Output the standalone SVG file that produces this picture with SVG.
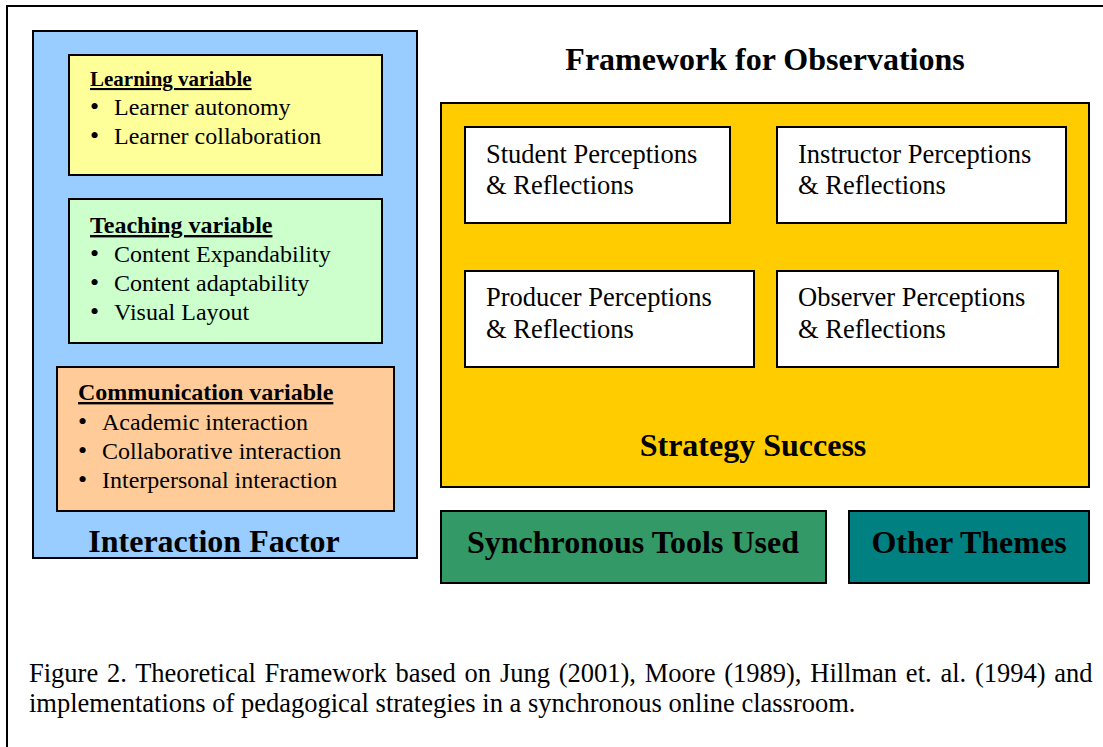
<svg xmlns="http://www.w3.org/2000/svg" width="1103" height="747" viewBox="0 0 1103 747">
<style>
text{font-family:"Liberation Serif","Times New Roman",serif;fill:#000}
.box{stroke:#000;stroke-width:2}
.hd{font-weight:bold;font-size:24px;text-decoration:underline}
.hs{font-size:21px}
.it{font-size:24px}
.bl{font-size:26px}
.lb{font-size:26.5px}
.big{font-weight:bold;font-size:32px}
.cap{font-size:26.5px}
</style>
<rect x="7" y="6" width="1110" height="760" fill="#fff" stroke="#000" stroke-width="2"/>
<g id="interaction-factor">
<rect class="box" x="33" y="31" width="384" height="527" fill="#99CCFF"/>
<text class="big" x="214" y="552" text-anchor="middle">Interaction Factor</text>
</g>
<g id="learning-variable">
<rect class="box" x="69" y="55" width="313" height="120" fill="#FFFF99"/>
<text class="hd hs" x="90" y="86">Learning variable</text>
<text class="bl" x="90" y="115">•</text><text class="it" x="114" y="115">Learner autonomy</text>
<text class="bl" x="90" y="144">•</text><text class="it" x="114" y="144">Learner collaboration</text>
</g>
<g id="teaching-variable">
<rect class="box" x="69" y="199" width="313" height="144" fill="#CCFFCC"/>
<text class="hd" x="90" y="233">Teaching variable</text>
<text class="bl" x="90" y="262">•</text><text class="it" x="114" y="262">Content Expandability</text>
<text class="bl" x="90" y="291">•</text><text class="it" x="114" y="291">Content adaptability</text>
<text class="bl" x="90" y="320">•</text><text class="it" x="114" y="320">Visual Layout</text>
</g>
<g id="communication-variable">
<rect class="box" x="57" y="367" width="337" height="144" fill="#FFCC99"/>
<text class="hd" x="78" y="400">Communication variable</text>
<text class="bl" x="78" y="430">•</text><text class="it" x="102" y="430">Academic interaction</text>
<text class="bl" x="78" y="459">•</text><text class="it" x="102" y="459">Collaborative interaction</text>
<text class="bl" x="78" y="488">•</text><text class="it" x="102" y="488">Interpersonal interaction</text>
</g>
<g id="framework-title">
<text class="big" x="765" y="70" text-anchor="middle">Framework for Observations</text>
</g>
<g id="strategy-success">
<rect class="box" x="441" y="103" width="648" height="384" fill="#FFCC00"/>
<text class="big" x="753" y="456" text-anchor="middle">Strategy Success</text>
</g>
<g id="student">
<rect class="box" x="465" y="127" width="265" height="96" fill="#fff"/>
<text class="lb" x="486" y="163">Student Perceptions</text>
<text class="lb" x="486" y="194">&amp; Reflections</text>
</g>
<g id="instructor">
<rect class="box" x="777" y="127" width="289" height="96" fill="#fff"/>
<text class="lb" x="798" y="163">Instructor Perceptions</text>
<text class="lb" x="798" y="194">&amp; Reflections</text>
</g>
<g id="producer">
<rect class="box" x="465" y="271" width="289" height="96" fill="#fff"/>
<text class="lb" x="486" y="306">Producer Perceptions</text>
<text class="lb" x="486" y="338">&amp; Reflections</text>
</g>
<g id="observer">
<rect class="box" x="777" y="271" width="281" height="96" fill="#fff"/>
<text class="lb" x="798" y="306">Observer Perceptions</text>
<text class="lb" x="798" y="338">&amp; Reflections</text>
</g>
<g id="synchronous-tools">
<rect class="box" x="441" y="511" width="385" height="72" fill="#339966"/>
<text class="big" x="633" y="553" text-anchor="middle">Synchronous Tools Used</text>
</g>
<g id="other-themes">
<rect class="box" x="849" y="511" width="240" height="72" fill="#008080"/>
<text class="big" x="969" y="553" text-anchor="middle">Other Themes</text>
</g>
<g id="connectors"></g>
<g id="caption">
<text class="cap" x="29" y="682" word-spacing="2.15">Figure 2. Theoretical Framework based on Jung (2001), Moore (1989), Hillman et. al. (1994) and</text>
<text class="cap" x="29" y="712">implementations of pedagogical strategies in a synchronous online classroom.</text>
</g>
</svg>
